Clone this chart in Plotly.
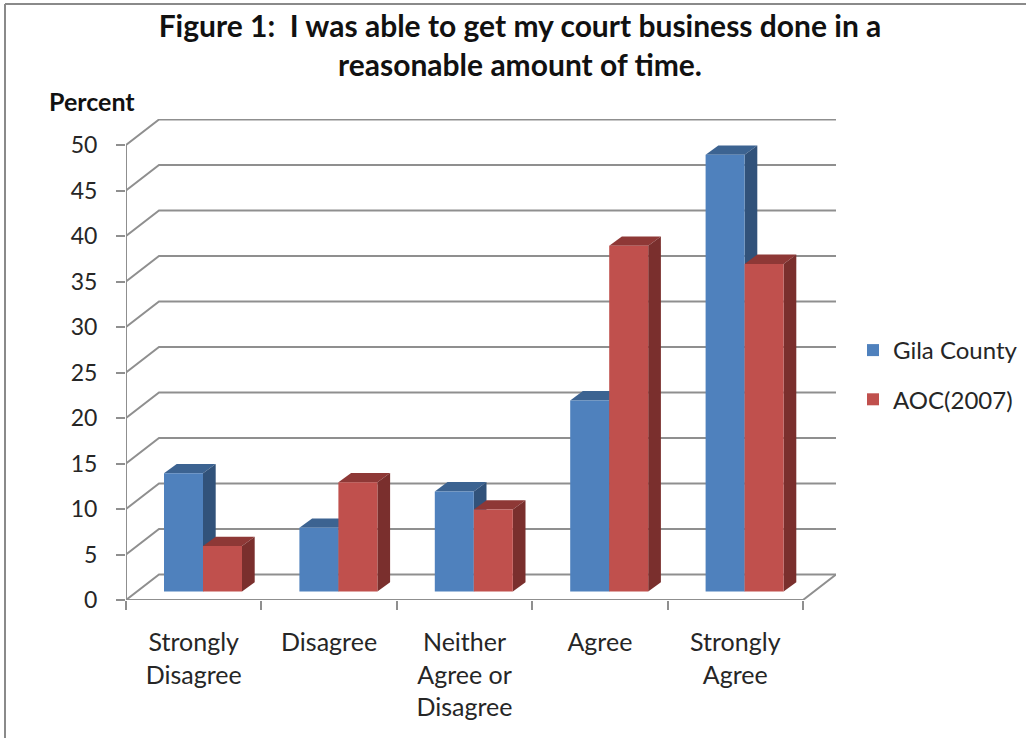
import plotly.graph_objects as go

categories = ["Strongly<br>Disagree", "Disagree", "Neither<br>Agree or<br>Disagree", "Agree", "Strongly<br>Agree"]
gila = [13, 7, 11, 21, 48]
aoc = [5, 12, 9, 38, 36]
y_ticks = list(range(0, 55, 5))

W, H = 1026, 738
L, R, T, B = 126, 836, 119, 600
CAT_PX = 135.4
UNIT_PX = 9.1
xmin, xmax = -0.5, -0.5 + (R - L) / CAT_PX
ymin, ymax = 0, (B - T) / UNIT_PX

BAR_W = 39 / CAT_PX
SHIFT = 9.3 / CAT_PX
BASE = 8.5 / UNIT_PX
DX, DY = 12.7 / CAT_PX, 9.3 / UNIT_PX
WALL_DX, WALL_DY = 33 / CAT_PX, 25.5 / UNIT_PX
GRID = "#8f8f8f"
TXT = "#262626"
FONT = "Lato"

idx = list(range(len(categories)))
fig = go.Figure()


def line(xs, ys):
    fig.add_trace(go.Scatter(x=xs, y=ys, mode="lines", line=dict(color=GRID, width=2),
                             showlegend=False, hoverinfo="skip", cliponaxis=False))


# back wall gridlines and left wall diagonals
x0 = -0.5
x1 = len(categories) - 0.5
for t in y_ticks:
    line([x0, x0 + WALL_DX, x1 + WALL_DX], [t, t + WALL_DY, t + WALL_DY])
# front axis lines and floor edge
line([x0, x0], [0, 50])
line([x0, x1, x1 + WALL_DX], [0, 0, WALL_DY])


def poly(xs, ys, color):
    fig.add_trace(go.Scatter(x=xs, y=ys, mode="lines", fill="toself", fillcolor=color,
                             line=dict(width=0, color=color), showlegend=False,
                             hoverinfo="skip", cliponaxis=False))


def depth(values, left, top_c, side_c):
    for i, v in zip(idx, values):
        a = i + left
        b = a + BAR_W
        h = BASE + v
        poly([a, a + DX, b + DX, b], [h, h + DY, h + DY, h], top_c)
        poly([b, b + DX, b + DX, b], [BASE, BASE + DY, h + DY, h], side_c)


depth(gila, SHIFT - BAR_W, "#3c6391", "#31527a")
depth(aoc, SHIFT, "#8e3836", "#7a2f2d")

fig.add_trace(go.Bar(x=idx, y=gila, base=BASE, width=BAR_W, offset=SHIFT - BAR_W, name="Gila County",
                     marker=dict(color="#4f81bd", line=dict(width=0)), xaxis="x2", yaxis="y2",
                     legendgroup="a"))
fig.add_trace(go.Bar(x=idx, y=aoc, base=BASE, width=BAR_W, offset=SHIFT, name="AOC(2007)",
                     marker=dict(color="#c0504d", line=dict(width=0)), xaxis="x2", yaxis="y2",
                     legendgroup="b"))


def px(x):
    return (x - L) / (R - L)


def py(y):
    return (B - y) / (B - T)


fig.update_layout(
    width=W, height=H, autosize=False,
    margin=dict(l=L, r=W - R, t=T, b=H - B, autoexpand=False),
    paper_bgcolor="white", plot_bgcolor="white",
    font=dict(family=FONT, color=TXT, size=23),
    barmode="overlay",
    title=dict(text="<b>Figure 1:  I was able to get my court business done in a<br>reasonable amount of time.</b>",
               x=520 / W, xanchor="center", y=1 - 37 / H, yanchor="top",
               font=dict(family=FONT, size=30, color="#111111")),
    xaxis=dict(range=[xmin, xmax], tickmode="array", tickvals=idx, ticktext=categories,
               ticks="", showgrid=False, zeroline=False, showline=False,
               ticklabelstandoff=25, tickfont=dict(size=25),
               minor=dict(tickmode="array", tickvals=[i - 0.5 for i in range(6)], ticks="outside",
                          ticklen=9, tickwidth=2, tickcolor=GRID, showgrid=False)),
    yaxis=dict(range=[ymin, ymax], tickmode="array", tickvals=y_ticks, ticks="outside",
               ticklen=9, tickwidth=2, tickcolor=GRID, showgrid=False, zeroline=False,
               showline=False, ticklabelstandoff=14, tickfont=dict(size=23)),
    xaxis2=dict(range=[xmin, xmax], overlaying="x", visible=False),
    yaxis2=dict(range=[ymin, ymax], overlaying="y", visible=False),
    legend=dict(x=px(853), y=py(328), xanchor="left", yanchor="top", traceorder="grouped",
                tracegroupgap=15, font=dict(size=24), bgcolor="rgba(0,0,0,0)", itemwidth=30),
    annotations=[dict(text="<b>Percent</b>", xref="paper", yref="paper", x=px(47), y=py(101),
                      xanchor="left", yanchor="middle", showarrow=False,
                      font=dict(family=FONT, size=25, color="#111111"))],
    shapes=[
        dict(type="line", xref="paper", yref="paper", x0=px(5), x1=px(5), y0=py(4), y1=py(H),
             line=dict(color="#8a8a8a", width=2)),
        dict(type="line", xref="paper", yref="paper", x0=px(5), x1=px(W), y0=py(4), y1=py(4),
             line=dict(color="#8a8a8a", width=2)),
    ],
)

fig.write_html("out.html", post_script="document.body.style.margin='0';",
               config=dict(displayModeBar=False))
